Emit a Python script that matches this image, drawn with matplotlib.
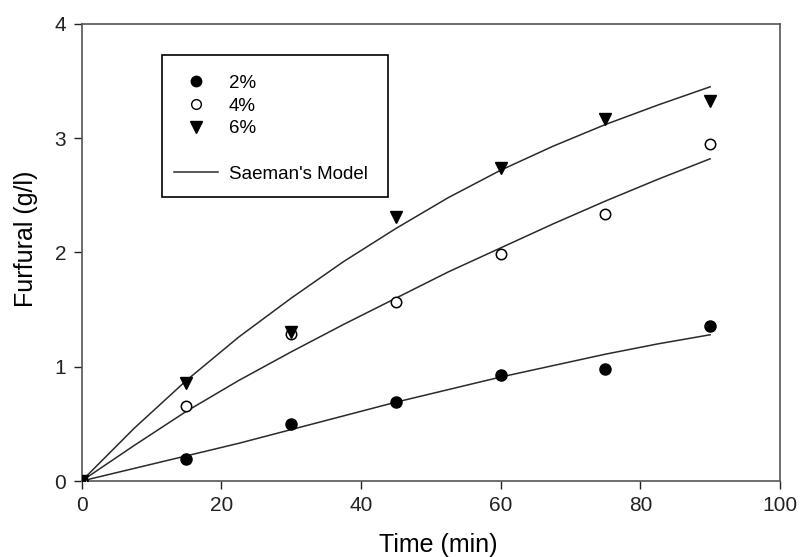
import matplotlib
matplotlib.use("Agg")
import matplotlib.pyplot as plt
from matplotlib.lines import Line2D
from matplotlib.patches import Rectangle

plt.rcParams["font.family"] = ["Liberation Sans", "DejaVu Sans"]

# measured furfural concentration (g/l) vs time (min)
time_pts = [0, 15, 30, 45, 60, 75, 90]
furf_2 = [0.0, 0.19, 0.50, 0.69, 0.93, 0.98, 1.36]
furf_4 = [0.0, 0.66, 1.29, 1.57, 1.99, 2.34, 2.95]
furf_6 = [0.0, 0.86, 1.30, 2.31, 2.74, 3.17, 3.33]

# Saeman model curves, sampled every 7.5 min
model_t = [0, 7.5, 15, 22.5, 30, 37.5, 45, 52.5, 60, 67.5, 75, 82.5, 90]
model_2 = [0.0, 0.11, 0.22, 0.33, 0.45, 0.57, 0.69, 0.80, 0.91, 1.01, 1.11, 1.20, 1.28]
model_4 = [0.0, 0.31, 0.61, 0.88, 1.13, 1.37, 1.60, 1.83, 2.04, 2.25, 2.45, 2.64, 2.82]
model_6 = [0.0, 0.46, 0.88, 1.26, 1.60, 1.92, 2.21, 2.48, 2.72, 2.93, 3.12, 3.29, 3.45]

fig = plt.figure(figsize=(8.0, 5.57), dpi=100)
ax = fig.add_axes([0.102, 0.1364, 0.873, 0.8206])

line_kw = dict(color="#2a2a2a", lw=1.1, zorder=2)
for m in (model_2, model_4, model_6):
    ax.plot(model_t, m, **line_kw)

ax.plot(time_pts, furf_2, "o", color="black", ms=8, ls="none", zorder=3)
ax.plot(time_pts, furf_4, "o", mfc="white", mec="black", mew=1.1, ms=7.5, ls="none", zorder=3)
ax.plot(time_pts, furf_6, "v", color="black", ms=9, ls="none", zorder=3)

ax.set_xlim(0, 100)
ax.set_ylim(0, 4)
ax.set_xticks([0, 20, 40, 60, 80, 100])
ax.set_yticks([0, 1, 2, 3, 4])
ax.tick_params(direction="out", length=6, width=1, labelsize=15, colors="#222222", pad=5)
for sp in ax.spines.values():
    sp.set_color("#555555")
    sp.set_linewidth(1.2)

ax.set_xlabel("Time (min)", fontsize=18)
ax.set_ylabel("Furfural (g/l)", fontsize=18)
ax.xaxis.set_label_coords(0.51, -0.113)
ax.yaxis.set_label_coords(-0.063, 0.53)

# legend box drawn on its own so the padding can differ from the entries
ax.add_patch(Rectangle((0.1146, 0.622), 0.324, 0.310, transform=ax.transAxes,
                       fill=False, ec="black", lw=1.2, zorder=4))

handles = [
    Line2D([], [], marker="o", color="black", ls="none", ms=7.5),
    Line2D([], [], marker="o", mfc="white", mec="black", ls="none", ms=7),
    Line2D([], [], marker="v", color="black", ls="none", ms=8.5),
    Line2D([], [], ls="none"),
    Line2D([], [], color="#2a2a2a", lw=1.1),
]
labels = ["2%", "4%", "6%", "", "Saeman's Model"]
ax.legend(handles, labels, loc="upper left", bbox_to_anchor=(0.1322, 0.889),
          borderaxespad=0, borderpad=0, fontsize=13.5, frameon=False,
          handlelength=2.35, handletextpad=0.59, labelspacing=0.3)

fig.savefig("out.png", dpi=100)
